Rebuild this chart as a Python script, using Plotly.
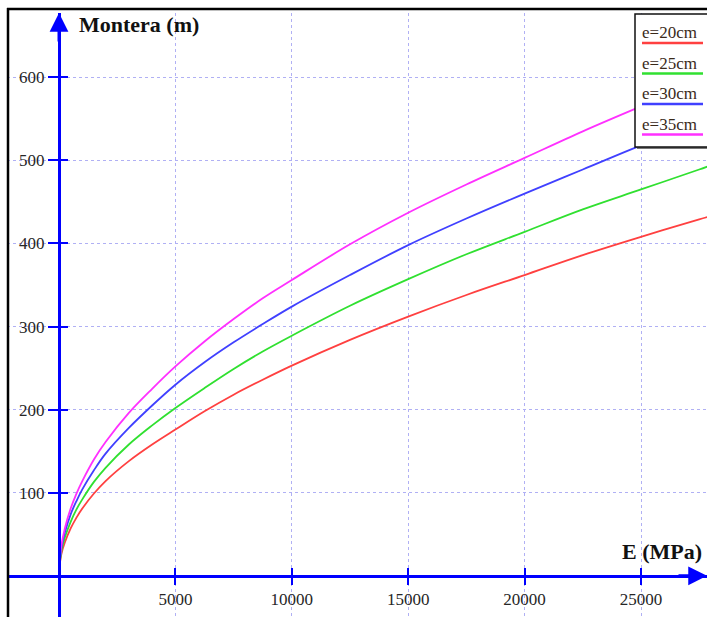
import plotly.graph_objects as go

# ---------------- data ----------------
E_MPa = [10, 100, 250, 500, 750, 1000, 1500, 2000, 3000, 4000, 5000, 6250, 7500,
         8750, 10000, 12500, 15000, 17500, 20000, 22500, 25000, 27500, 28000]

montera_e20 = [8, 26, 40, 57, 70, 81, 99, 114, 138, 158, 176, 198, 218,
               236, 253, 284, 312, 338, 362, 386, 408, 429, 433]
montera_e25 = [9, 29, 46, 65, 80, 92, 113, 130, 158, 181, 202, 226, 249,
               270, 289, 325, 357, 387, 414, 441, 465, 489, 494]
montera_e30 = [10, 33, 52, 74, 90, 104, 127, 147, 178, 205, 230, 257, 281,
               303, 324, 362, 398, 430, 460, 489, 518, 545, 550]
montera_e35 = [11, 36, 57, 81, 99, 114, 140, 161, 196, 225, 252, 282, 309,
               334, 356, 399, 437, 471, 503, 535, 565, 594, 600]

series_names = ["e=20cm", "e=25cm", "e=30cm", "e=35cm"]
series_values = [montera_e20, montera_e25, montera_e30, montera_e35]
series_colors = ["#ff4040", "#30e030", "#4040ff", "#ff30ff"]

x_tick_vals = [5000, 10000, 15000, 20000, 25000]
x_tick_text = ["5000", "10000", "15000", "20000", "25000"]
y_tick_vals = [100, 200, 300, 400, 500, 600]
y_tick_text = ["100", "200", "300", "400", "500", "600"]

y_title = "Montera (m)"
x_title = "E (MPa)"

# ---------------- layout helpers ----------------
FIG_W, FIG_H = 707, 617
L, T, R, B = 7, 13, 0, 0
W, H = FIG_W - L - R, FIG_H - T - B
X_RANGE = [-2234, 27835]
Y_RANGE = [-49.6, 677.4]
AXIS_BLUE = "#0000ff"
GRID = "#b0b0f4"
SERIF = "Liberation Serif, Times New Roman, serif"
TXT = "#262626"


def px(x):
    return (x - L) / W


def py(y):
    return (FIG_H - B - y) / H


fig = go.Figure()
for name, vals, col in zip(series_names, series_values, series_colors):
    fig.add_trace(go.Scatter(x=E_MPa, y=vals, mode="lines", name=name,
                             line=dict(color=col, width=1.8, shape="spline", smoothing=1.0),
                             showlegend=False, hoverinfo="skip"))

# dummy trace on overlay axes (for crossing tick marks)
fig.add_trace(go.Scatter(x=[None], y=[None], xaxis="x2", yaxis="y2",
                         showlegend=False, hoverinfo="skip"))

x_pos = py(575.8)
y_pos = px(59)

fig.update_layout(
    width=FIG_W, height=FIG_H,
    margin=dict(l=L, r=R, t=T, b=B),
    paper_bgcolor="white", plot_bgcolor="white",
    showlegend=False,
    xaxis=dict(range=X_RANGE, tickvals=x_tick_vals, ticktext=x_tick_text,
               showgrid=True, gridcolor=GRID, griddash="dot", gridwidth=1,
               zeroline=False, showline=True, linecolor=AXIS_BLUE, linewidth=3,
               anchor="free", position=x_pos,
               ticks="outside", ticklen=7, tickwidth=2, tickcolor=AXIS_BLUE,
               tickfont=dict(family=SERIF, size=17, color=TXT)),
    yaxis=dict(range=Y_RANGE, tickvals=y_tick_vals, ticktext=y_tick_text,
               showgrid=True, gridcolor=GRID, griddash="dot", gridwidth=1,
               zeroline=False, showline=True, linecolor=AXIS_BLUE, linewidth=3,
               anchor="free", position=y_pos,
               ticks="outside", ticklen=10, tickwidth=2, tickcolor=AXIS_BLUE,
               tickfont=dict(family=SERIF, size=17, color=TXT)),
    xaxis2=dict(range=X_RANGE, overlaying="x", anchor="free", position=x_pos,
                tickvals=x_tick_vals, showticklabels=False, showgrid=False,
                zeroline=False, showline=False, ticks="inside", ticklen=8,
                tickwidth=2, tickcolor=AXIS_BLUE),
    yaxis2=dict(range=Y_RANGE, overlaying="y", anchor="free", position=y_pos,
                tickvals=y_tick_vals, showticklabels=False, showgrid=False,
                zeroline=False, showline=False, ticks="inside", ticklen=8,
                tickwidth=2, tickcolor=AXIS_BLUE),
)

shapes = []
# outer black frame (left and top)
shapes.append(dict(type="line", xref="paper", yref="paper", x0=px(8), x1=px(8),
                   y0=py(FIG_H + 5), y1=py(8), line=dict(color="black", width=2.5)))
shapes.append(dict(type="line", xref="paper", yref="paper", x0=px(7), x1=px(FIG_W + 5),
                   y0=py(9), y1=py(9), line=dict(color="black", width=2.5)))

# legend box
LB_L, LB_T, LB_B = 635, 14, 147
shapes.append(dict(type="rect", xref="paper", yref="paper",
                   x0=px(LB_L + 2), x1=px(FIG_W + 10), y0=py(LB_B + 2), y1=py(LB_T + 2),
                   fillcolor="#777777", line=dict(width=0), layer="above"))
shapes.append(dict(type="rect", xref="paper", yref="paper",
                   x0=px(LB_L), x1=px(FIG_W + 10), y0=py(LB_B), y1=py(LB_T),
                   fillcolor="white", line=dict(color="#111111", width=1.5), layer="above"))

annotations = []
for i, (name, col) in enumerate(zip(series_names, series_colors)):
    ty = 33 + i * 30.5
    ly = 43 + i * 30.5
    annotations.append(dict(text=name, xref="paper", yref="paper", x=px(640), y=py(ty),
                            xanchor="left", yanchor="middle", showarrow=False,
                            font=dict(family=SERIF, size=17, color="#3a2a1a")))
    shapes.append(dict(type="line", xref="paper", yref="paper", x0=px(642), x1=px(703),
                       y0=py(ly), y1=py(ly), line=dict(color=col, width=2.5), layer="above"))

# axis arrows
annotations.append(dict(x=0, y=Y_RANGE[1], xref="x", yref="y", ax=0, ay=30,
                        text="", showarrow=True, arrowhead=2, arrowsize=1.25,
                        arrowwidth=3, arrowcolor=AXIS_BLUE, standoff=0))
annotations.append(dict(x=X_RANGE[1], y=0, xref="x", yref="y", ax=-30, ay=0,
                        text="", showarrow=True, arrowhead=2, arrowsize=1.25,
                        arrowwidth=3, arrowcolor=AXIS_BLUE, standoff=0))

# axis titles
annotations.append(dict(text="<b>" + y_title + "</b>", xref="paper", yref="paper",
                        x=px(77), y=py(25), xanchor="left", yanchor="middle",
                        showarrow=False, font=dict(family=SERIF, size=22, color="#111111")))
annotations.append(dict(text="<b>" + x_title + "</b>", xref="paper", yref="paper",
                        x=px(704), y=py(551), xanchor="right", yanchor="middle",
                        showarrow=False, font=dict(family=SERIF, size=22, color="#111111")))

fig.update_layout(shapes=shapes, annotations=annotations)
fig.write_html("out.html", config={"displayModeBar": False},
               post_script="document.body.style.margin='0';document.body.style.overflow='hidden';")
